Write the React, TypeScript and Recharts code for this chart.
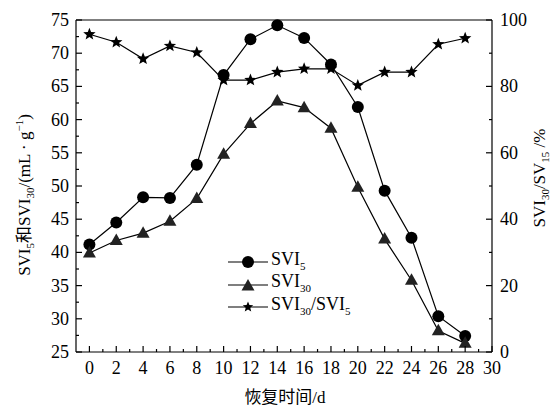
import { Line, LineChart, ReferenceLine, XAxis, YAxis } from 'recharts'

const DAYS = [0, 2, 4, 6, 8, 10, 12, 14, 16, 18, 20, 22, 24, 26, 28]
const SVI5 = [41.2, 44.5, 48.3, 48.2, 53.2, 66.7, 72.1, 74.2, 72.3, 68.3, 61.9, 49.3, 42.2, 30.4, 27.4]
const SVI30 = [39.9, 41.8, 42.9, 44.7, 48.1, 54.8, 59.4, 62.8, 61.8, 58.7, 49.8, 42.0, 35.8, 28.2, 26.3]
const RATIO = [95.7, 93.3, 88.3, 92.2, 90.2, 81.9, 81.9, 84.3, 85.3, 85.3, 80.3, 84.3, 84.3, 92.7, 94.5]

const X_LABELS = [0, 2, 4, 6, 8, 10, 12, 14, 16, 18, 20, 22, 24, 26, 28, 30]
const X_MINOR = [1, 3, 5, 7, 9, 11, 13, 15, 17, 19, 21, 23, 25, 27, 29]
const L_LABELS = [25, 30, 35, 40, 45, 50, 55, 60, 65, 70, 75]
const L_MINOR = [27.5, 32.5, 37.5, 42.5, 47.5, 52.5, 57.5, 62.5, 67.5, 72.5]
const R_LABELS = [0, 20, 40, 60, 80, 100]
const R_MINOR = [10, 30, 50, 70, 90]

const data = DAYS.map((d, i) => ({ day: d, svi5: SVI5[i], svi30: SVI30[i], ratio: RATIO[i] }))

const FONT = '"Liberation Serif", "Noto Sans CJK SC", serif'
const INK = '#000'

const Circle = ({ cx, cy }: any) => <circle cx={cx} cy={cy} r={6} fill={INK} />
const Tri = ({ cx, cy }: any) => (
  <polygon points={`${cx},${cy - 7} ${cx - 6.5},${cy + 4.5} ${cx + 6.5},${cy + 4.5}`} fill="#222" />
)
const starPts = (cx: number, cy: number, ro: number, ri: number) => {
  const p: string[] = []
  for (let k = 0; k < 10; k++) {
    const r = k % 2 === 0 ? ro : ri
    const a = -Math.PI / 2 + (k * Math.PI) / 5
    p.push(`${cx + r * Math.cos(a)},${cy + r * Math.sin(a)}`)
  }
  return p.join(' ')
}
const Star = ({ cx, cy }: any) => <polygon points={starPts(cx, cy, 6.5, 2.8)} fill={INK} />

const XTick = ({ x, y, payload }: any) => {
  const major = X_LABELS.includes(payload.value)
  return (
    <g>
      <line x1={x} x2={x} y1={y} y2={y - (major ? 6 : 3)} stroke={INK} strokeWidth={1.2} />
      {major && (
        <text x={x} y={y + 22} textAnchor="middle" fontSize={18} fontFamily={FONT} fill={INK}>
          {payload.value}
        </text>
      )}
    </g>
  )
}
const LTick = ({ x, y, payload }: any) => {
  const major = L_LABELS.includes(payload.value)
  return (
    <g>
      <line x1={x} x2={x + (major ? 6 : 3)} y1={y} y2={y} stroke={INK} strokeWidth={1.2} />
      {major && (
        <text x={x - 7} y={y + 6} textAnchor="end" fontSize={18} fontFamily={FONT} fill={INK}>
          {payload.value}
        </text>
      )}
    </g>
  )
}
const RTick = ({ x, y, payload }: any) => {
  const major = R_LABELS.includes(payload.value)
  return (
    <g>
      <line x1={x} x2={x - (major ? 6 : 3)} y1={y} y2={y} stroke={INK} strokeWidth={1.2} />
      {major && (
        <text x={x + 8} y={y + 6} textAnchor="start" fontSize={18} fontFamily={FONT} fill={INK}>
          {payload.value}
        </text>
      )}
    </g>
  )
}

const LeftLabel = () => (
  <text x={30} y={195} transform="rotate(-90 30 195)" textAnchor="middle" fontSize={17} fontFamily={FONT} fill={INK}>
    SVI<tspan fontSize={11} dy={4}>5</tspan>
    <tspan dy={-4}>和SVI</tspan>
    <tspan fontSize={11} dy={4}>30</tspan>
    <tspan dy={-4}>/(mL · g</tspan>
    <tspan fontSize={11} dy={-7}>−1</tspan>
    <tspan dy={7}>)</tspan>
  </text>
)
const RightLabel = () => (
  <text x={545} y={178} transform="rotate(-90 545 178)" textAnchor="middle" fontSize={17} fontFamily={FONT} fill={INK}>
    SVI<tspan fontSize={11} dy={4}>30</tspan>
    <tspan dy={-4}>/SV</tspan>
    <tspan fontSize={11} dy={4}>15</tspan>
    <tspan dy={-4}> /%</tspan>
  </text>
)
const BottomLabel = () => (
  <text x={285} y={403} textAnchor="middle" fontSize={17} fontFamily={FONT} fill={INK}>
    恢复时间/d
  </text>
)

const LEGEND = [
  { name: 'SVI', sub: '5', tail: '', sub2: '', mark: 'circle' },
  { name: 'SVI', sub: '30', tail: '', sub2: '', mark: 'tri' },
  { name: 'SVI', sub: '30', tail: '/SVI', sub2: '5', mark: 'star' },
]

function LegendBox() {
  return (
    <div style={{ position: 'absolute', left: 228, top: 251, fontFamily: FONT, fontSize: 18, color: INK }}>
      {LEGEND.map((l, i) => (
        <div key={i} style={{ display: 'flex', alignItems: 'center', height: 22.5 }}>
          <svg width={40} height={22} style={{ display: 'block' }}>
            <line x1={0} x2={40} y1={11} y2={11} stroke={INK} strokeWidth={1.2} />
            {l.mark === 'circle' && <Circle cx={20} cy={11} />}
            {l.mark === 'tri' && <Tri cx={20} cy={12} />}
            {l.mark === 'star' && <polygon points={starPts(20, 11, 5.5, 2.4)} fill={INK} />}
          </svg>
          <span style={{ marginLeft: 3, lineHeight: '18px' }}>
            {l.name}
            <sub style={{ fontSize: 11 }}>{l.sub}</sub>
            {l.tail}
            {l.sub2 && <sub style={{ fontSize: 11 }}>{l.sub2}</sub>}
          </span>
        </div>
      ))}
    </div>
  )
}

export default function App() {
  return (
    <div style={{ position: 'absolute', left: 0, top: 0, width: 550, height: 407, background: '#fff' }}>
      <LineChart width={550} height={407} data={data} margin={{ top: 20, right: 0, bottom: 0, left: 0 }}>
        <XAxis
          dataKey="day"
          type="number"
          domain={[-1, 30]}
          ticks={[...X_LABELS, ...X_MINOR].sort((a, b) => a - b)}
          interval={0}
          height={55}
          tickSize={0}
          tickMargin={0}
          tick={<XTick />}
          axisLine={{ stroke: INK, strokeWidth: 1.2 }}
          label={<BottomLabel />}
        />
        <YAxis
          yAxisId="l"
          domain={[25, 75]}
          ticks={[...L_LABELS, ...L_MINOR].sort((a, b) => a - b)}
          interval={0}
          width={76}
          tickSize={0}
          tickMargin={0}
          tick={<LTick />}
          axisLine={{ stroke: INK, strokeWidth: 1.2 }}
          label={<LeftLabel />}
        />
        <YAxis
          yAxisId="r"
          orientation="right"
          domain={[0, 100]}
          ticks={[...R_LABELS, ...R_MINOR].sort((a, b) => a - b)}
          interval={0}
          width={58}
          tickSize={0}
          tickMargin={0}
          tick={<RTick />}
          axisLine={{ stroke: INK, strokeWidth: 1.2 }}
          label={<RightLabel />}
        />
        <ReferenceLine yAxisId="l" y={75} stroke={INK} strokeWidth={1.2} />
        <Line yAxisId="l" dataKey="svi5" stroke={INK} strokeWidth={1.2} dot={<Circle />} isAnimationActive={false} />
        <Line yAxisId="l" dataKey="svi30" stroke={INK} strokeWidth={1.2} dot={<Tri />} isAnimationActive={false} />
        <Line yAxisId="r" dataKey="ratio" stroke={INK} strokeWidth={1.2} dot={<Star />} isAnimationActive={false} />
      </LineChart>
      <LegendBox />
    </div>
  )
}
